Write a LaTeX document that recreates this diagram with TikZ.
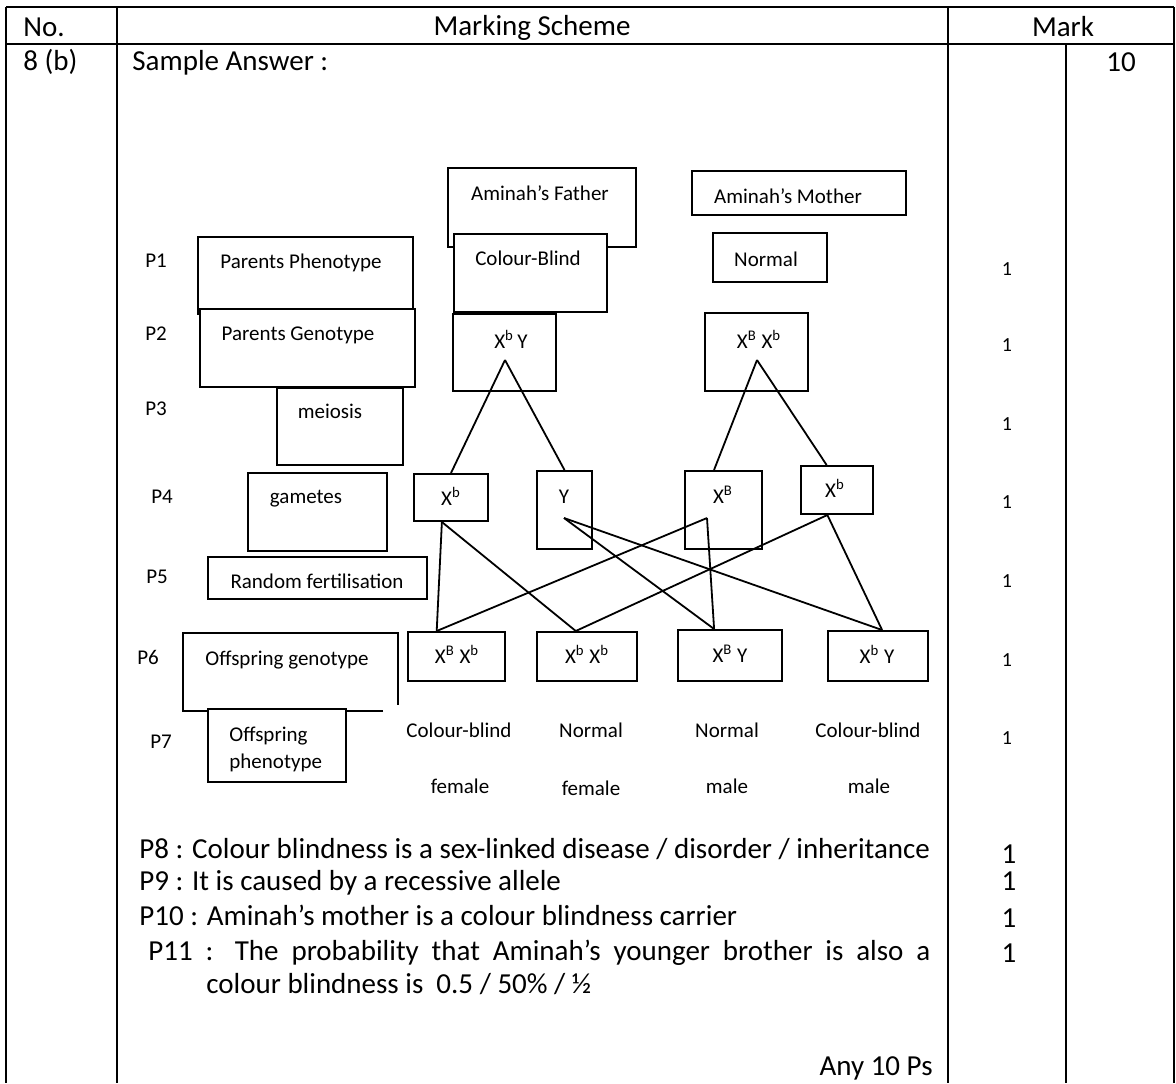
\documentclass[tikz,border=0pt]{standalone}
\usepackage{fontspec}
\setmainfont{Carlito}
\usetikzlibrary{fit,calc}

\begin{document}
\begin{tikzpicture}[x=0.5pt,y=-0.5pt,
  box/.style={draw, line width=1pt, fill=white, inner sep=0pt},
  rule/.style={line width=0.9pt},
  wire/.style={line width=0.9pt},
  big/.style={font=\fontsize{14.5}{17}\selectfont, inner sep=0pt, anchor=base},
  sm/.style={font=\fontsize{10.5}{12}\selectfont, inner sep=0pt, anchor=base},
  tick/.style={font=\fontsize{10}{12}\selectfont, inner sep=0pt, anchor=base}]
\useasboundingbox (0,0) rectangle (1176,1083);

% table
\draw[rule] (6,7) -- (1174,7);
\draw[rule] (6,44) -- (1174,44);
\draw[rule] (6,7) -- (6,1083);
\draw[rule] (117,7) -- (117,1083);
\draw[rule] (948,7) -- (948,1083);
\draw[rule] (1066,44) -- (1066,1083);
\draw[rule] (1174,7) -- (1174,1083);
\node[big, anchor=base west] (hno) at (23,36) {No.};
\node[big] (hms) at (532,35) {Marking Scheme};
\node[big] (hmk) at (1063,36) {Mark};
\node[big, anchor=base west] (qno) at (23,70) {8 (b)};
\node[big, anchor=base west] (samp) at (132,70) {Sample Answer :};
\node[big] (tot) at (1121,71) {10};

% left column boxes
\node[box, fit={(198,237) (413,314)}] (pph) {};
\node[box, fit={(200,309) (415,387)}] (pge) {};
\node[box, fit={(277,388) (403,465)}] (mei) {};
\node[box, fit={(248,473) (387,551)}] (gam) {};
\node[box, fit={(208,557) (427,599)}] (rnd) {};
\draw[line width=1pt] (383,711) -- (183,711) -- (183,633) -- (398,633) -- (398,705);
\node[box, fit={(208,709) (346,782)}] (oph) {};
\node[sm] (tpph) at (301,268) {Parents Phenotype};
\node[sm] (tpge) at (298,340) {Parents Genotype};
\node[sm] (tmei) at (330,418) {meiosis};
\node[sm] (tgam) at (306,503) {gametes};
\node[sm] (trnd) at (317,588) {Random fertilisation};
\node[sm] (togn) at (287,665) {Offspring genotype};
\node[sm, anchor=base west] (toph1) at (229,741) {Offspring};
\node[sm, anchor=base west] (toph2) at (229,768) {phenotype};
\foreach \n/\x/\y in {1/156/267, 2/156/340, 3/156/415, 4/162/503, 5/157/583, 6/148/664, 7/161/748}
  \node[sm] (p\n) at (\x,\y) {P\n};

% parents
\node[box, fit={(448,168) (636,247)}] (fat) {};
\node[box, fit={(454,234) (607,312)}] (fph) {};
\node[box, fit={(453,314) (556,391)}] (fge) {};
\node[box, fit={(692,171) (906,215)}] (mot) {};
\node[box, fit={(713,233) (827,282)}] (mph) {};
\node[box, fit={(705,313) (808,391)}] (mge) {};
\node[sm] (tfat) at (540,200) {Aminah’s Father};
\node[sm] (tmot) at (788,203) {Aminah’s Mother};
\node[sm] (tfph) at (528,265) {Colour-Blind};
\node[sm] (tmph) at (766,266) {Normal};
\node[sm] (tfge) at (511,348) {X\textsuperscript{b}\,Y};
\node[sm] (tmge) at (759,348) {X\textsuperscript{B} X\textsuperscript{b}};

% gametes
\node[box, fit={(414,474) (488,521)}] (g1) {};
\node[box, fit={(537,471) (592,549)}] (g2) {};
\node[box, fit={(685,471) (762,549)}] (g3) {};
\node[box, fit={(801,466) (873,514)}] (g4) {};
\node[sm] (tg1) at (451,505) {X\textsuperscript{b}};
\node[sm] (tg2) at (564,503) {Y};
\node[sm] (tg3) at (723,503) {X\textsuperscript{B}};
\node[sm] (tg4) at (835,497) {X\textsuperscript{b}};

% offspring
\node[box, fit={(408,632) (505,681)}] (o1) {};
\node[box, fit={(537,632) (637,681)}] (o2) {};
\node[box, fit={(678,630) (782,681)}] (o3) {};
\node[box, fit={(828,631) (928,681)}] (o4) {};
\node[sm] (to1) at (457,663) {X\textsuperscript{B} X\textsuperscript{b}};
\node[sm] (to2) at (587,663) {X\textsuperscript{b} X\textsuperscript{b}};
\node[sm] (to3) at (730,662) {X\textsuperscript{B} Y};
\node[sm] (to4) at (877,663) {X\textsuperscript{b} Y};
\node[sm] (f1a) at (459,737) {Colour-blind};
\node[sm] (f1b) at (460,793) {female};
\node[sm] (f2a) at (591,737) {Normal};
\node[sm] (f2b) at (591,795) {female};
\node[sm] (f3a) at (727,737) {Normal};
\node[sm] (f3b) at (727,793) {male};
\node[sm] (f4a) at (868,737) {Colour-blind};
\node[sm] (f4b) at (869,793) {male};

% crossing lines
\coordinate (fa) at (505,360);
\coordinate (ma) at (757,360);
\coordinate (yb) at (564,518);
\coordinate (Bb) at (707,518);
\coordinate (g3t) at ($(g3.north west)!.38!(g3.north east)$);
\coordinate (g4t) at ($(g4.north west)!.36!(g4.north east)$);
\coordinate (g1b) at ($(g1.south west)!.38!(g1.south east)$);
\coordinate (g4b) at ($(g4.south west)!.37!(g4.south east)$);
\coordinate (o1t) at ($(o1.north west)!.3!(o1.north east)$);
\coordinate (o2t) at ($(o2.north west)!.39!(o2.north east)$);
\coordinate (o3t) at ($(o3.north west)!.35!(o3.north east)$);
\coordinate (o4t) at ($(o4.north west)!.54!(o4.north east)$);
\draw[wire] (fa) -- (g1.north);
\draw[wire] (fa) -- (g2.north);
\draw[wire] (ma) -- (g3t);
\draw[wire] (ma) -- (g4t);
\draw[wire] (g1b) -- (o1t);
\draw[wire] (g1b) -- (o2t);
\draw[wire] (yb) -- (o3t);
\draw[wire] (yb) -- (o4t);
\draw[wire] (Bb) -- (o1t);
\draw[wire] (Bb) -- (o3t);
\draw[wire] (g4b) -- (o2t);
\draw[wire] (g4b) -- (o4t);

% marks
\foreach \y [count=\i] in {275,351,430,508,587,666,744}
  \node[tick] (m\i) at (1007,\y) {1};

% explanation
\node[big, anchor=base west] (p8) at (139,858) {P8 : Colour blindness is a sex-linked disease / disorder / inheritance};
\node[big, anchor=base west] (p9) at (139,890) {P9 : It is caused by a recessive allele};
\node[big, anchor=base west] (p10) at (139,925) {P10 : Aminah’s mother is a colour blindness carrier};
\node[big, anchor=base west] (p11) at (148,960) {\makebox[391pt][s]{P11 : The probability that Aminah’s younger brother is also a}};
\node[big, anchor=base west] (p11b) at (206,993) {colour blindness is \ 0.5 / 50\% / ½};
\node[big, anchor=base east] (any) at (933,1075) {Any 10 Ps};
\foreach \y [count=\i] in {863,890,927,962}
  \node[big] (k\i) at (1009,\y) {1};
\end{tikzpicture}
\end{document}
